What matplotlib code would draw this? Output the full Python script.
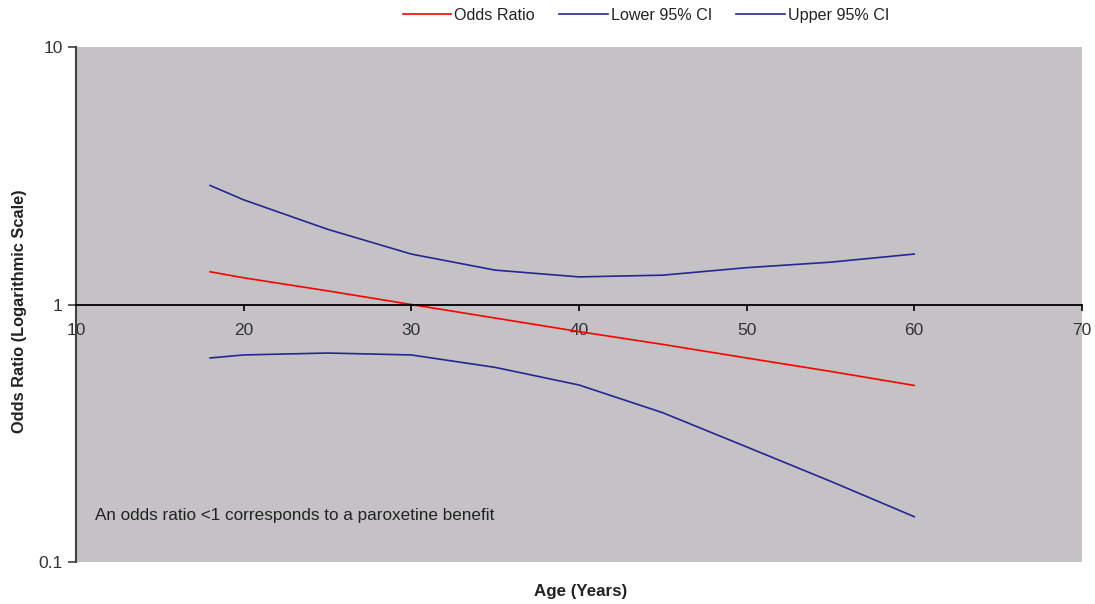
import numpy as np
import matplotlib.pyplot as plt

plt.rcParams['font.family'] = ['Liberation Sans', 'DejaVu Sans']

# Data
age = [18, 20, 25, 30, 35, 40, 45, 50, 55, 60]
odds_ratio = [1.34, 1.27, 1.13, 1.00, 0.886, 0.785, 0.70, 0.62, 0.55, 0.485]
lower_ci = [0.62, 0.637, 0.648, 0.637, 0.57, 0.487, 0.38, 0.28, 0.206, 0.15]
upper_ci = [2.90, 2.55, 1.96, 1.57, 1.36, 1.28, 1.30, 1.39, 1.46, 1.57]
x_ticks = [10, 20, 30, 40, 50, 60, 70]
y_ticks = [0.1, 1, 10]
y_tick_labels = ['0.1', '1', '10']

fig = plt.figure(figsize=(10.95, 6.04), dpi=100)
ax = fig.add_axes([0.0694, 0.0695, 0.9186, 0.8527])
ax.set_facecolor('#c5c2c6')

ax.plot(age, odds_ratio, color='#ff0000', lw=1.2, label='Odds Ratio')
ax.plot(age, lower_ci, color='#262693', lw=1.2, label='Lower 95% CI')
ax.plot(age, upper_ci, color='#262693', lw=1.2, label='Upper 95% CI')

ax.set_yscale('log')
ax.set_ylim(0.1, 10)
ax.set_xlim(10, 70)
ax.set_yticks(y_ticks)
ax.set_yticklabels(y_tick_labels)
ax.yaxis.set_minor_locator(plt.NullLocator())
ax.set_xticks(x_ticks)

# x axis crosses at odds ratio 1
ax.spines['bottom'].set_position(('data', 1))
ax.spines['bottom'].set_color('black')
ax.spines['bottom'].set_linewidth(1.3)
ax.spines['left'].set_color('#404040')
ax.spines['left'].set_linewidth(1.5)
ax.spines['top'].set_visible(False)
ax.spines['right'].set_visible(False)

ax.tick_params(axis='x', direction='out', length=4, width=1.2, pad=9,
               labelsize=12.5, labelcolor='#333333', color='black')
ax.tick_params(axis='y', direction='out', length=6, width=1.2, labelsize=12.5,
               labelcolor='#333333', color='#404040')

ax.text(0.0185, 0.082, 'An odds ratio <1 corresponds to a paroxetine benefit',
        transform=ax.transAxes, fontsize=12.3, color='#222222')

fig.text(0.53, 0.02, 'Age (Years)', ha='center', va='center', fontsize=12.2,
         fontweight='bold', color='#222222')
fig.text(0.018, 0.485, 'Odds Ratio (Logarithmic Scale)', ha='center', va='center',
         rotation=90, fontsize=11.8, fontweight='bold', color='#222222')

fig.legend(loc='center', bbox_to_anchor=(0.59, 0.975), ncol=3, frameon=False,
           handlelength=3.0, handletextpad=0.2, columnspacing=1.5, fontsize=11.6,
           labelcolor='#222222')

fig.savefig('out.png', dpi=100)
